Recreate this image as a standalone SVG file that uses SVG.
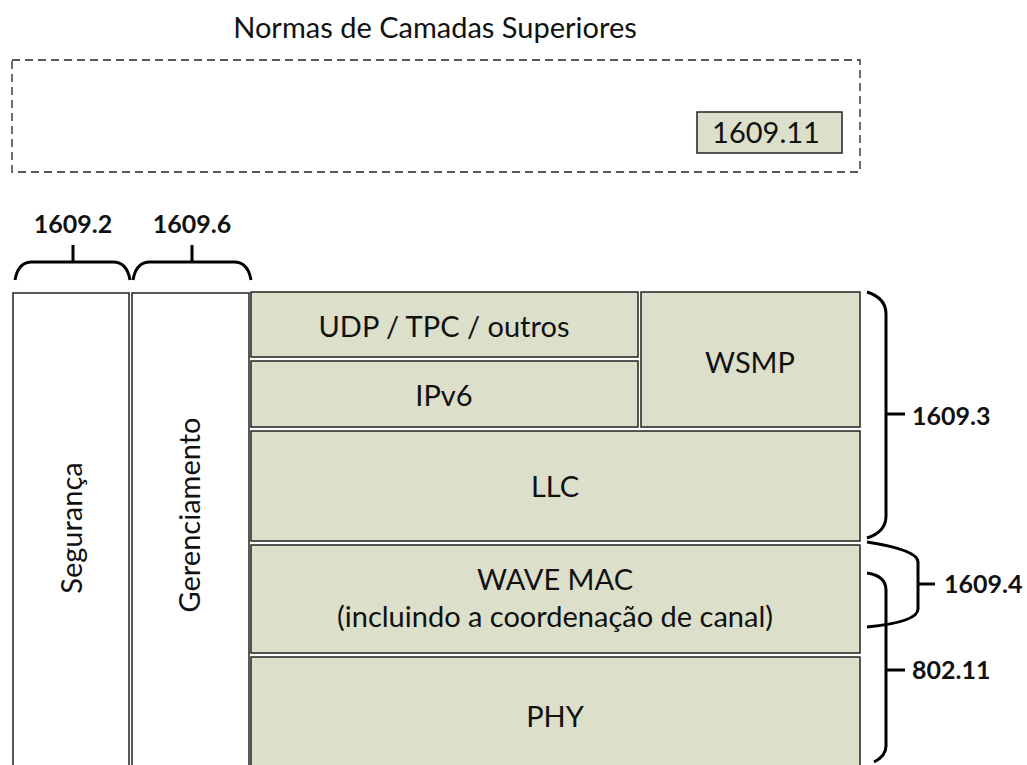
<svg xmlns="http://www.w3.org/2000/svg" width="1027" height="765" viewBox="0 0 1027 765">
<style>
.t{font-family:Lato,"Liberation Sans",sans-serif;font-size:29px;fill:#111;text-anchor:middle}
.b{font-family:Lato,"Liberation Sans",sans-serif;font-size:25px;font-weight:bold;fill:#111}
.g{fill:#DCE0CA;stroke:#222;stroke-width:1.5}
.w{fill:#fff;stroke:#222;stroke-width:1.5}
.br{fill:none;stroke:#000;stroke-width:3}
</style>
<rect width="1027" height="765" fill="#fff"/>
<text class="t" x="435" y="38">Normas de Camadas Superiores</text>
<g id="upper">
<rect x="12" y="60" width="848" height="112" fill="none" stroke="#222" stroke-width="1.3" stroke-dasharray="8,5"/>
</g>
<g id="n1609_11"><rect class="g" x="697" y="112" width="145" height="41"/><text class="t" x="766" y="143">1609.11</text></g>
<g id="seguranca"><rect class="w" x="13" y="293" width="116" height="480"/><text class="t" transform="translate(82,528) rotate(-90)">Segurança</text></g>
<g id="gerenciamento"><rect class="w" x="132" y="293" width="117" height="480"/><text class="t" transform="translate(200,515) rotate(-90)">Gerenciamento</text></g>
<g id="udp"><rect class="g" x="251" y="292" width="387" height="65"/><text class="t" x="444" y="337">UDP / TPC / outros</text></g>
<g id="ipv6"><rect class="g" x="251" y="361" width="387" height="66"/><text class="t" x="444" y="406">IPv6</text></g>
<g id="wsmp"><rect class="g" x="641" y="292" width="219" height="135"/><text class="t" x="750" y="373">WSMP</text></g>
<g id="llc"><rect class="g" x="251" y="431" width="609" height="110"/><text class="t" x="555" y="497">LLC</text></g>
<g id="wavemac"><rect class="g" x="251" y="545" width="609" height="108"/><text class="t" x="555" y="590">WAVE MAC</text><text class="t" x="555" y="627">(incluindo a coordenação de canal)</text></g>
<g id="phy"><rect class="g" x="251" y="657" width="609" height="120"/><text class="t" x="555" y="727">PHY</text></g>
<g id="connectors">
<path class="br" d="M15,280 Q18,262 32,262 L113,262 Q127,262 130,280 M73,245 L73,262"/>
<path class="br" d="M133,280 Q136,262 150,262 L234,262 Q248,262 251,280 M192,245 L192,262"/>
<path class="br" d="M867,292 Q886,298 886,314 L886,516 Q886,532 867,538 M886,414 L905,414"/>
<path class="br" d="M867,542 Q918,550 918,562 L918,609 Q918,622 867,627 M918,584 L935,584"/>
<path class="br" d="M867,573 Q886,576 886,590 L886,746 Q886,756 874,762 M886,670 L905,670"/>
</g>
<text class="b" x="73" y="233" text-anchor="middle">1609.2</text>
<text class="b" x="192" y="233" text-anchor="middle">1609.6</text>
<text class="b" x="912" y="425">1609.3</text>
<text class="b" x="944" y="593">1609.4</text>
<text class="b" x="912" y="679">802.11</text>
</svg>
